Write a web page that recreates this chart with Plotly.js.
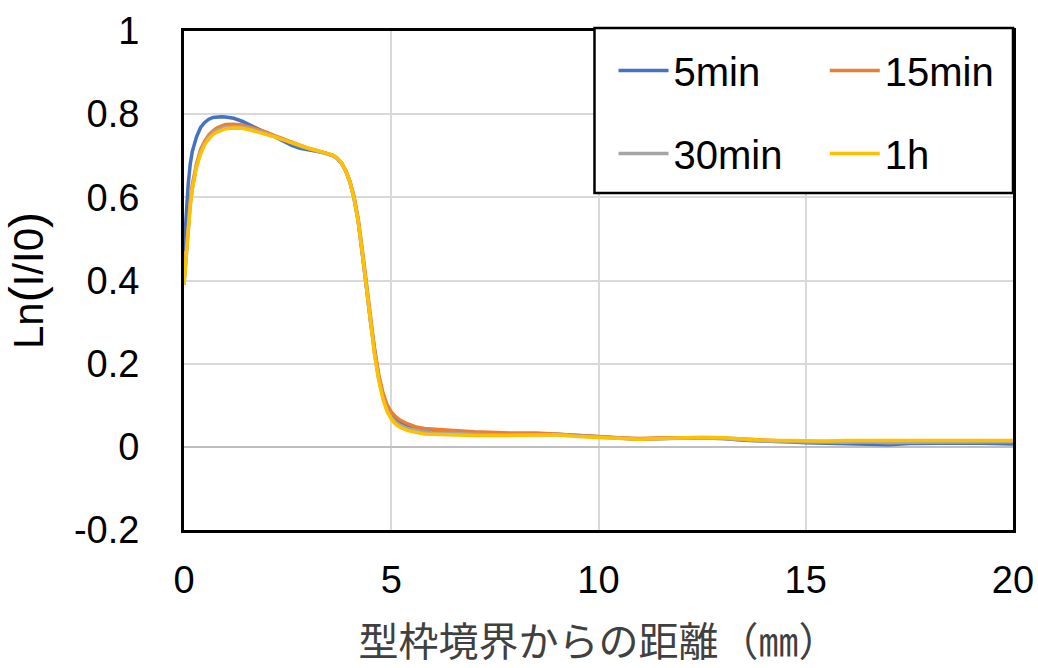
<!DOCTYPE html>
<html>
<head>
<meta charset="utf-8">
<script src="https://cdn.plot.ly/plotly-3.0.1.min.js"></script>
<style>html,body{margin:0;padding:0;background:#fff;}#chart{width:1038px;height:668px;}</style>
</head>
<body>
<div id="chart"></div>
<script>
const distance = [0, 0.05, 0.1, 0.15, 0.2, 0.3, 0.4, 0.5, 0.6, 0.7, 0.8, 0.9, 1.0, 1.2, 1.4, 1.6, 1.8, 2.0, 2.2, 2.4, 2.6, 2.8, 3.0, 3.2, 3.4, 3.6, 3.7, 3.8, 3.9, 4.0, 4.1, 4.2, 4.3, 4.4, 4.5, 4.6, 4.7, 4.8, 4.9, 5.0, 5.1, 5.2, 5.4, 5.6, 5.8, 6.0, 6.5, 7.0, 7.5, 8.0, 8.5, 9.0, 9.5, 10.0, 10.5, 11.0, 11.5, 12.0, 12.5, 13.0, 13.5, 14.0, 14.5, 15.0, 15.5, 16.0, 16.5, 17.0, 17.5, 18.0, 18.5, 19.0, 19.5, 20.0];

const min5 = [0.47, 0.56, 0.63, 0.68, 0.71, 0.745, 0.768, 0.780, 0.788, 0.792, 0.794, 0.794, 0.793, 0.790, 0.783, 0.774, 0.765, 0.755, 0.745, 0.735, 0.725, 0.718, 0.714, 0.711, 0.707, 0.700, 0.693, 0.682, 0.664, 0.638, 0.600, 0.545, 0.470, 0.385, 0.300, 0.225, 0.165, 0.122, 0.094, 0.078, 0.067, 0.060, 0.050, 0.045, 0.041, 0.039, 0.035, 0.033, 0.031, 0.030, 0.030, 0.030, 0.027, 0.025, 0.021, 0.018, 0.020, 0.021, 0.021, 0.020, 0.016, 0.013, 0.012, 0.010, 0.009, 0.008, 0.007, 0.005, 0.008, 0.009, 0.010, 0.009, 0.008, 0.007];

const min15 = [0.40, 0.47, 0.54, 0.59, 0.63, 0.68, 0.715, 0.735, 0.750, 0.760, 0.767, 0.772, 0.775, 0.776, 0.774, 0.769, 0.763, 0.756, 0.748, 0.740, 0.732, 0.724, 0.718, 0.713, 0.708, 0.701, 0.694, 0.683, 0.665, 0.640, 0.603, 0.550, 0.476, 0.392, 0.308, 0.233, 0.173, 0.130, 0.101, 0.084, 0.073, 0.065, 0.055, 0.048, 0.044, 0.042, 0.039, 0.036, 0.034, 0.033, 0.033, 0.031, 0.027, 0.025, 0.022, 0.020, 0.022, 0.023, 0.022, 0.021, 0.018, 0.016, 0.014, 0.012, 0.012, 0.012, 0.013, 0.011, 0.012, 0.012, 0.013, 0.013, 0.014, 0.014];

const min30 = [0.39, 0.46, 0.53, 0.58, 0.62, 0.675, 0.71, 0.73, 0.745, 0.755, 0.762, 0.766, 0.769, 0.770, 0.769, 0.765, 0.760, 0.753, 0.746, 0.738, 0.730, 0.723, 0.717, 0.712, 0.707, 0.700, 0.693, 0.682, 0.663, 0.637, 0.598, 0.543, 0.467, 0.382, 0.297, 0.222, 0.162, 0.118, 0.088, 0.071, 0.060, 0.053, 0.044, 0.039, 0.036, 0.034, 0.031, 0.030, 0.029, 0.029, 0.029, 0.029, 0.026, 0.024, 0.020, 0.018, 0.020, 0.021, 0.021, 0.020, 0.016, 0.014, 0.013, 0.012, 0.011, 0.011, 0.012, 0.010, 0.011, 0.011, 0.012, 0.012, 0.013, 0.012];

const hour1 = [0.39, 0.46, 0.53, 0.58, 0.62, 0.672, 0.705, 0.727, 0.741, 0.751, 0.757, 0.762, 0.765, 0.767, 0.766, 0.762, 0.757, 0.751, 0.745, 0.738, 0.731, 0.724, 0.718, 0.713, 0.708, 0.701, 0.694, 0.683, 0.664, 0.638, 0.599, 0.544, 0.468, 0.382, 0.296, 0.220, 0.160, 0.115, 0.085, 0.067, 0.055, 0.048, 0.039, 0.034, 0.031, 0.030, 0.028, 0.027, 0.027, 0.028, 0.029, 0.029, 0.025, 0.023, 0.020, 0.018, 0.020, 0.022, 0.023, 0.022, 0.018, 0.016, 0.015, 0.014, 0.014, 0.015, 0.015, 0.013, 0.013, 0.013, 0.014, 0.014, 0.015, 0.015];

const seriesNames = ['5min', '15min', '30min', '1h'];
const seriesColors = ['#4472C4', '#ED7D31', '#A5A5A5', '#FFC000'];
const seriesValues = [min5, min15, min30, hour1];
const seriesLegend = ['legend', 'legend2', 'legend', 'legend2'];

const xTickVals = [0, 5, 10, 15, 20];
const yTickVals = [-0.2, 0, 0.2, 0.4, 0.6, 0.8, 1];
const yTickText = ['-0.2', '0', '0.2', '0.4', '0.6', '0.8', '1'];

const latin = 'Liberation Sans, Arial, Noto Sans CJK JP, sans-serif';
const cjk = 'Noto Sans CJK JP, Liberation Sans, sans-serif';

const traces = seriesValues.map((vals, i) => ({
  type: 'scatter',
  mode: 'lines',
  x: distance,
  y: vals,
  name: seriesNames[i],
  legend: seriesLegend[i],
  legendgroup: 'g' + i,
  line: {color: seriesColors[i], width: 3.5}
}));

function legendBox(xpx) {
  return {
    orientation: 'v',
    x: (xpx - 184) / 828, xanchor: 'left',
    y: (530 - 38) / 499, yanchor: 'top',
    borderwidth: 0,
    bgcolor: 'rgba(0,0,0,0)',
    font: {family: latin, size: 40, color: '#000000'},
    tracegroupgap: 28,
    itemwidth: 50,
    traceorder: 'grouped'
  };
}

const layout = {
  width: 1038,
  height: 668,
  margin: {l: 184, r: 25, t: 31, b: 138},
  paper_bgcolor: '#ffffff',
  plot_bgcolor: '#ffffff',
  font: {family: latin, color: '#000000', size: 38},
  showlegend: true,
  legend: legendBox(613),
  legend2: legendBox(824),
  shapes: [{
    type: 'rect', xref: 'paper', yref: 'paper', layer: 'above',
    x0: (594 - 184) / 828, x1: 1, y0: (530 - 193) / 499, y1: (530 - 28) / 499,
    line: {color: '#000000', width: 2.5}, fillcolor: '#ffffff'
  }],
  xaxis: {
    range: [0, 20],
    tickvals: xTickVals,
    ticktext: xTickVals.map(String),
    showgrid: true,
    gridcolor: '#d9d9d9',
    gridwidth: 2,
    zeroline: false,
    showline: true,
    linecolor: '#000000',
    linewidth: 3,
    mirror: true,
    ticks: '',
    ticklabelstandoff: 14,
    tickfont: {family: latin, size: 38, color: '#000000'},
    title: {text: '型枠境界からの距離（㎜）', font: {family: cjk, size: 40, color: '#404040'}, standoff: 46}
  },
  yaxis: {
    range: [-0.2, 1],
    tickvals: yTickVals,
    ticktext: yTickText,
    showgrid: true,
    gridcolor: '#d9d9d9',
    gridwidth: 2,
    zeroline: true,
    zerolinecolor: '#bfbfbf',
    zerolinewidth: 2,
    showline: true,
    linecolor: '#000000',
    linewidth: 3,
    mirror: true,
    ticks: '',
    ticklabelstandoff: 34,
    tickfont: {family: latin, size: 38, color: '#000000'},
    title: {text: 'Ln<span style="font-size:48px">(</span>I/I0<span style="font-size:48px">)</span>', font: {family: latin, size: 42, color: '#000000'}, standoff: 20}
  }
};

Plotly.newPlot('chart', traces, layout, {displayModeBar: false, staticPlot: true});
</script>
</body>
</html>
